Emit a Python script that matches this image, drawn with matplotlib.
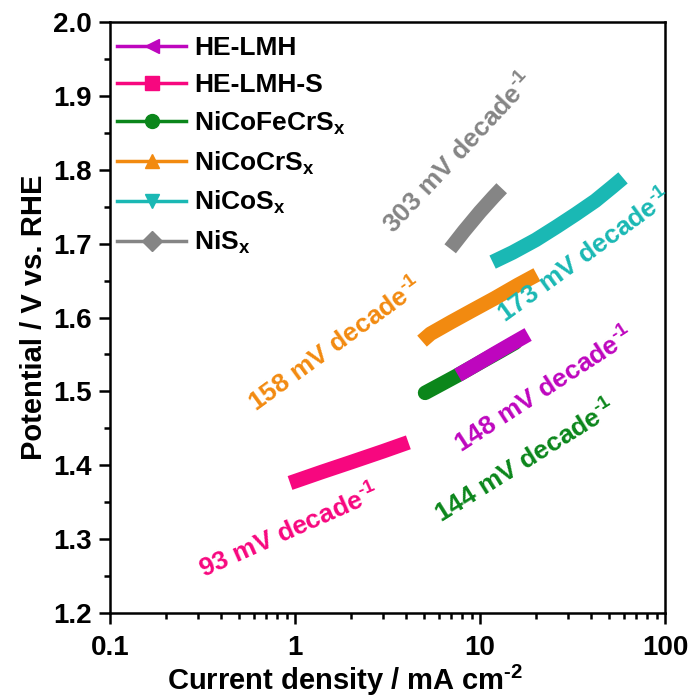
import matplotlib
matplotlib.use("Agg")
import matplotlib.pyplot as plt
from matplotlib.lines import Line2D
from matplotlib.ticker import MultipleLocator, LogLocator, NullFormatter, FixedLocator, FixedFormatter

plt.rcParams['font.family'] = ['Liberation Sans', 'DejaVu Sans']
plt.rcParams['font.weight'] = 'bold'
plt.rcParams['mathtext.fontset'] = 'custom'
plt.rcParams['mathtext.rm'] = 'Liberation Sans:bold'
plt.rcParams['mathtext.bf'] = 'Liberation Sans:bold'
plt.rcParams['mathtext.it'] = 'Liberation Sans:bold'
plt.rcParams['mathtext.default'] = 'bf'

# ---- data ----
names = ['HE-LMH', 'HE-LMH-S', r'NiCoFeCrS$_{\mathbf{x}}$', r'NiCoCrS$_{\mathbf{x}}$',
         r'NiCoS$_{\mathbf{x}}$', r'NiS$_{\mathbf{x}}$']
colors = ['#BE06BE', '#F7077F', '#0B861B', '#F28A10', '#1AB8B4', '#858585']
markers = ['<', 's', 'o', '^', 'v', 'D']

j_helmh = [7.6, 9.5, 12.0, 15.0, 18.2]
E_helmh = [1.522, 1.536, 1.551, 1.565, 1.577]

j_helmhs = [0.94, 1.4, 2.0, 3.0, 4.1]
E_helmhs = [1.376, 1.391, 1.404, 1.419, 1.431]

j_nicofecrs = [5.05, 6.2, 7.6, 10.0, 13.0, 15.5]
E_nicofecrs = [1.498, 1.510, 1.522, 1.539, 1.555, 1.566]

j_nicocrs = [4.86, 5.4, 7.0, 9.0, 12.0, 16.0, 20.3]
E_nicocrs = [1.568, 1.578, 1.594, 1.609, 1.626, 1.644, 1.658]

j_nicos = [11.7, 15.0, 20.0, 26.0, 33.0, 42.0, 52.0, 59.3]
E_nicos = [1.675, 1.688, 1.705, 1.723, 1.740, 1.758, 1.777, 1.789]

j_nis = [6.9, 8.2, 10.0, 11.8, 13.1]
E_nis = [1.693, 1.717, 1.743, 1.763, 1.775]

slope_labels = ['148', '93', '144', '158', '173', '303']
label_x = [22.4, 0.93, 17.6, 1.67, 37.0, 7.7]
label_y = [1.502, 1.310, 1.405, 1.563, 1.683, 1.822]
label_rot = [33, 24, 32, 36, 36, 47]

xticks = [0.1, 1, 10, 100]
xticklabels = ['0.1', '1', '10', '100']

fig = plt.figure(figsize=(6.94, 7.00), dpi=100)
L, R, B, T = 110, 665, 613, 22
ax = fig.add_axes([L / 694, 1 - B / 700, (R - L) / 694, (B - T) / 700])

series = [(j_helmh, E_helmh), (j_helmhs, E_helmhs), (j_nicofecrs, E_nicofecrs),
          (j_nicocrs, E_nicocrs), (j_nicos, E_nicos), (j_nis, E_nis)]
zorders = [3, 2, 2, 2, 2, 2]
caps = ['butt', 'butt', 'round', 'butt', 'butt', 'butt']
for (jj, EE), c, z, cs in zip(series, colors, zorders, caps):
    ax.plot(jj, EE, color=c, lw=10.5, solid_capstyle=cs, solid_joinstyle='round', zorder=z)

for s, x, y, r, c in zip(slope_labels, label_x, label_y, label_rot, colors):
    ax.text(x, y, s + r' mV decade$^{\text{-1}}$', color=c, fontsize=19, fontweight='bold',
            rotation=r, rotation_mode='anchor', ha='center', va='center', clip_on=False)

ax.set_xscale('log')
ax.set_xlim(0.1, 100)
ax.set_ylim(1.2, 2.0)
ax.xaxis.set_major_locator(FixedLocator(xticks))
ax.xaxis.set_major_formatter(FixedFormatter(xticklabels))
ax.xaxis.set_minor_locator(LogLocator(base=10, subs=range(2, 10)))
ax.xaxis.set_minor_formatter(NullFormatter())
ax.yaxis.set_major_locator(MultipleLocator(0.1))
ax.yaxis.set_minor_locator(MultipleLocator(0.05))
ax.yaxis.set_major_formatter(plt.FuncFormatter(lambda v, p: f'{v:.1f}'))

ax.tick_params(which='major', direction='out', length=8, width=1.8, labelsize=20, pad=5)
ax.tick_params(axis='x', which='major', pad=8)
ax.tick_params(which='minor', direction='out', length=4.5, width=1.8)
ax.tick_params(top=False, right=False)
for sp in ax.spines.values():
    sp.set_linewidth(1.8)
for lab in ax.get_xticklabels() + ax.get_yticklabels():
    lab.set_fontweight('bold')

ax.set_xlabel(r'Current density / mA cm$^{\text{-2}}$', fontsize=21, fontweight='bold')
ax.xaxis.set_label_coords(0.423, -0.085)
ax.set_ylabel('Potential / V vs. RHE', fontsize=21, fontweight='bold', labelpad=4)

handles = [Line2D([0], [0], color=c, lw=2.5, marker=m, markersize=10, markeredgecolor=c, markerfacecolor=c)
           for c, m in zip(colors, markers)]
leg = ax.legend(handles, names, loc='upper left', frameon=False, fontsize=19,
                handlelength=2.6, handletextpad=0.3, labelspacing=0.48,
                bbox_to_anchor=(0.004, 0.985), borderaxespad=0.0, borderpad=0.2)
for t in leg.get_texts():
    t.set_fontweight('bold')

fig.savefig('out.png', dpi=100)
